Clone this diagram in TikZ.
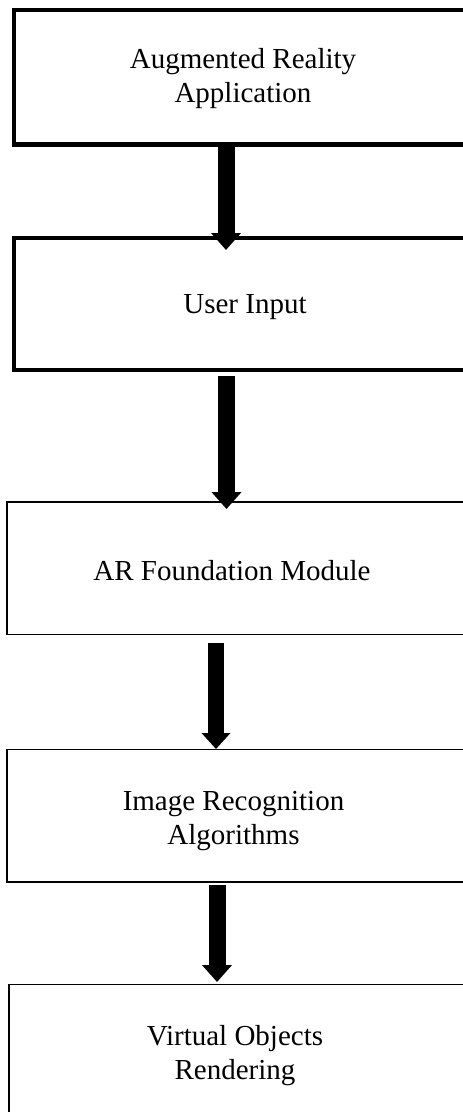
\documentclass[tikz,border=0pt]{standalone}
\usepackage{fontspec}
\setmainfont{Liberation Serif}
\usetikzlibrary{arrows.meta}

\tikzset{
    box/.style={draw=black, anchor=north west, outer sep=0pt, inner sep=0pt,
        minimum width=520pt},
    heavy/.style={box, line width=4.5pt},
    light/.style={box, line width=1.2pt},
    lbl/.style={font=\fontsize{29}{34}\selectfont, align=center, inner sep=0pt},
    flow/.style={draw=black, line width=17pt,
        -{Triangle[length=17pt, width=29pt]}},
}

\begin{document}
\begin{tikzpicture}[
    x=1pt, y=-1pt,
]
    \useasboundingbox (0,0) rectangle (463,1112);
    \clip (0,0) rectangle (463,1112);

    \node[heavy, minimum height=134.5pt] (app) at (14,10) {};
    \node[heavy, minimum height=132pt] (input) at (14,238) {};
    \node[light, minimum height=132.5pt] (arf) at (7,502) {};
    \node[light, minimum height=132.5pt] (imgrec) at (7,749.5) {};
    \node[light, minimum height=200pt] (render) at (9,984.5) {};

    \node[lbl] (appT) at (243,78.5) {Augmented Reality\\Application};
    \node[lbl] (inputT) at (245,307.5) {User Input};
    \node[lbl] (arfT) at (232,571) {AR Foundation Module};
    \node[lbl] (imgrecT) at (233.5,821) {Image Recognition\\Algorithms};
    \node[lbl] (renderT) at (235,1056) {Virtual Objects\\Rendering};

    \draw[flow] ([xshift=212pt]app.south west) -- ([xshift=212pt, yshift=-12pt]input.north west);
    \draw[flow] ([xshift=212.5pt, yshift=-6pt]input.south west) -- ([xshift=219.5pt, yshift=-7pt]arf.north west);
    \draw[flow, line width=16pt, -{Triangle[length=16pt, width=28pt]}] ([xshift=209pt, yshift=-8.5pt]arf.south west) -- ([xshift=209pt, yshift=0.5pt]imgrec.north west);
    \draw[flow] ([xshift=210pt, yshift=-3pt]imgrec.south west) -- ([xshift=208pt, yshift=2.5pt]render.north west);
\end{tikzpicture}
\end{document}
